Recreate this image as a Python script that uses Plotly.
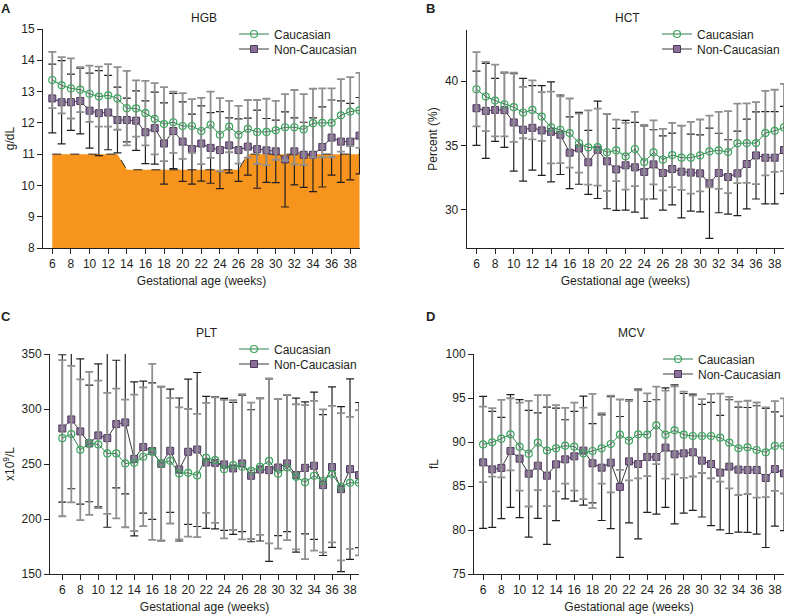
import plotly.graph_objects as go

weeks = list(range(6, 40))
tick_weeks = list(range(6, 39, 2))

hgb_c = [13.37,13.2,13.1,13.06,12.93,12.84,12.88,12.78,12.47,12.46,12.31,12.13,11.96,12.02,11.9,11.9,11.74,11.94,11.62,11.88,11.62,11.81,11.71,11.71,11.76,11.86,11.86,11.79,11.99,12.0,12.0,12.24,12.36,12.4]
hgb_n = [12.78,12.66,12.66,12.7,12.39,12.31,12.33,12.09,12.09,12.07,11.7,11.83,11.34,11.74,11.4,11.16,11.34,11.2,11.13,11.28,11.13,11.24,11.16,11.12,11.09,10.83,11.09,10.98,10.98,11.23,11.53,11.4,11.4,11.59]
hgb_c_sd = [0.9,0.9,0.96,0.72,0.9,0.96,1.0,1.0,1.19,0.9,1.03,1.14,1.18,0.98,1.05,0.86,1.06,1.06,1.17,0.82,0.92,0.92,1.02,1.06,0.94,1.06,1.19,1.13,1.1,1.1,1.1,1.16,1.1,1.2]
hgb_n_sd = [1.1,1.33,0.9,1.05,1.2,1.36,1.19,1.05,0.7,0.95,1.0,1.15,1.3,1.2,1.27,1.12,1.2,1.13,1.23,0.88,1.0,0.91,1.25,1.02,1.0,1.52,1.07,1.04,1.18,1.28,1.2,1.3,1.22,1.22]

# anemia reference (lower limit) line
ref_weeks = [6, 13, 14, 26, 27, 39]
ref_hgb = [11, 11, 10.5, 10.5, 11, 11]

hct_c = [39.38,38.81,38.5,38.21,37.98,37.56,37.77,37.25,36.4,36.22,35.96,35.18,34.84,34.87,34.46,34.61,34.15,34.72,33.7,34.46,33.89,34.25,34.04,34.04,34.22,34.53,34.61,34.48,35.16,35.18,35.18,35.96,36.14,36.4]
hct_n = [37.9,37.69,37.77,37.75,36.79,36.22,36.37,36.17,36.06,35.83,34.43,34.77,33.68,34.66,33.76,33.13,33.45,33.29,32.93,33.52,32.85,33.16,32.95,32.88,32.82,32.05,32.85,32.54,32.82,33.55,34.22,34.04,34.04,34.64]
hct_c_sd = [2.9,2.7,2.8,2.5,2.7,2.0,2.3,1.9,2.8,2.6,2.7,2.3,2.9,3.0,3.0,2.4,2.6,2.9,2.9,2.5,2.4,2.5,2.5,2.8,2.8,2.8,3.0,3.2,3.1,3.1,3.2,3.3,3.2,3.4]
hct_n_sd = [2.9,3.7,2.45,2.9,3.8,4.0,3.3,3.5,3.9,3.1,2.8,2.8,2.5,3.8,3.7,3.2,3.5,3.5,3.6,2.7,2.9,2.8,3.6,3.0,3.0,4.3,3.1,2.9,3.3,3.5,3.4,3.6,3.6,3.4]

plt_c = [273.5,277.2,262.9,268.7,267.8,259.6,259.6,250.5,251.1,256.6,261.1,250.5,252.9,241.4,242.0,239.6,255.6,253.5,245.3,249.0,247.5,243.8,247.5,252.9,241.1,246.8,238.3,233.5,239.3,234.7,240.8,229.3,232.9,232.9]
plt_n = [282.3,290.5,279.6,268.7,276.0,273.5,286.3,287.8,254.7,265.4,261.7,250.2,262.0,245.0,261.1,263.2,251.4,251.1,249.6,246.0,250.5,239.3,245.0,244.4,246.8,250.5,239.9,246.5,248.4,230.8,247.2,227.1,245.3,239.9]
plt_c_sd = [71,62,64,65,58,55,59,58,62,63,80,70,57,60,58,56,50,57,63,59,66,62,62,75,68,66,66,70,68,65,62,67,60,66]
plt_n_sd = [67,63,66,53,65,81,58,65,70,60,62,70,56,65,66,70,60,60,60,60,62,60,65,83,62,62,70,60,67,64,73,75,82,66]

mcv_c = [89.73,89.96,90.38,90.87,89.47,88.67,89.92,89.02,89.28,89.58,89.47,88.71,88.98,89.28,89.77,90.83,90.15,90.87,90.83,91.89,90.83,91.33,90.83,90.68,90.68,90.68,90.49,89.92,89.28,89.39,89.09,88.83,89.55,89.55]
mcv_n = [87.69,86.89,87.05,88.98,88.11,86.4,87.31,86.17,87.46,88.03,88.37,89.02,87.58,87.08,87.65,84.9,87.8,87.5,88.3,88.3,89.36,88.6,88.71,88.83,87.88,87.5,86.52,87.2,86.86,86.82,86.82,85.91,86.93,86.44]
mcv_c_sd = [4.3,3.9,4.4,4.1,5.0,6.0,5.4,6.3,4.9,4.3,5.0,5.2,6.5,4.0,5.5,4.0,4.5,5.0,4.7,4.4,5.0,5.0,4.9,4.6,4.2,4.8,5.0,5.2,5.3,5.3,5.4,5.1,5.1,5.4]
mcv_n_sd = [7.5,6.6,5.75,6.4,6.7,7.2,6.0,7.8,6.4,4.5,5.1,6.2,4.5,6.0,7.5,8.0,7.0,8.5,6.3,6.5,6.8,7.9,6.8,6.6,6.4,7.0,6.5,7.6,7.1,7.1,7.3,7.9,6.5,6.5]

panels = [
    dict(title="HGB", letter="A", ytitle="g/dL", c=hgb_c, n=hgb_n, csd=hgb_c_sd, nsd=hgb_n_sd,
         yrange=[8, 15], ytick=[8, 9, 10, 11, 12, 13, 14, 15], xrange=[5.0, 39.05],
         xdom=[43, 360], ydom=[29, 248], legend=(234, 34)),
    dict(title="HCT", letter="B", ytitle="Percent (%)", c=hct_c, n=hct_n, csd=hct_c_sd, nsd=hct_n_sd,
         yrange=[27, 44], ytick=[30, 35, 40], xrange=[4.95, 39.0],
         xdom=[466.7, 784], ydom=[30, 248], legend=(657, 34)),
    dict(title="PLT", letter="C", ytitle="x10<sup>9</sup>/L", c=plt_c, n=plt_n, csd=plt_c_sd, nsd=plt_n_sd,
         yrange=[150, 350], ytick=[150, 200, 250, 300, 350], xrange=[4.63, 39.0],
         xdom=[50, 359], ydom=[354, 574], legend=(234, 349)),
    dict(title="MCV", letter="D", ytitle="fL", c=mcv_c, n=mcv_n, csd=mcv_c_sd, nsd=mcv_n_sd,
         yrange=[75, 100], ytick=[75, 80, 85, 90, 95, 100], xrange=[5.0, 39.0],
         xdom=[474, 784], ydom=[354, 574], legend=(658, 359)),
]

W, H = 788, 616
FONT = "Liberation Sans, Arial, sans-serif"
TXT = "#231f20"
ENTRY_GAP = 15

fig = go.Figure()
layout = dict(width=W, height=H, margin=dict(l=0, r=0, t=0, b=0),
              paper_bgcolor="white", plot_bgcolor="white",
              font=dict(family=FONT, size=12, color=TXT), showlegend=True)
annotations = []
leg_idx = 0

def leg_name(i):
    return "legend" if i == 0 else "legend%d" % (i + 1)

for i, p in enumerate(panels):
    k = "" if i == 0 else str(i + 1)
    xa, ya = "x" + k, "y" + k
    if p["title"] == "HGB":
        fig.add_trace(go.Scatter(x=ref_weeks, y=ref_hgb, xaxis=xa, yaxis=ya, mode="lines",
                                 fill="tozeroy", fillcolor="#f7941d",
                                 line=dict(color="#231f20", width=1, dash="dash"),
                                 showlegend=False, hoverinfo="skip"))
    lx, ly = p["legend"]
    leg_c = leg_name(leg_idx)
    leg_n = leg_name(leg_idx + 1)
    leg_idx += 2
    fig.add_trace(go.Scatter(x=weeks, y=p["n"], xaxis=xa, yaxis=ya, name="Non-Caucasian",
                             mode="lines+markers", legend=leg_n,
                             line=dict(color="#3a3a3a", width=1),
                             marker=dict(symbol="square", size=7, color="#8b6f99",
                                         line=dict(color="#4b3a5a", width=1)),
                             error_y=dict(type="data", array=p["nsd"], visible=True,
                                          color="#231f20", thickness=1.2, width=4)))
    fig.add_trace(go.Scatter(x=weeks, y=p["c"], xaxis=xa, yaxis=ya, name="Caucasian",
                             mode="lines+markers", legend=leg_c,
                             line=dict(color="#2f7d4e", width=1),
                             marker=dict(symbol="circle-open", size=7, color="#3aa55c",
                                         line=dict(width=1.2)),
                             error_y=dict(type="data", array=p["csd"], visible=True,
                                          color="#8f8f8f", thickness=1.8, width=4)))
    for j, lg in enumerate([leg_c, leg_n]):
        layout[lg] = dict(x=lx / W, y=1 - (ly + j * ENTRY_GAP) / H, xanchor="left",
                          yanchor="middle", bgcolor="rgba(0,0,0,0)",
                          font=dict(size=12, color=TXT), itemwidth=30, borderwidth=0)
    xd = [p["xdom"][0] / W, p["xdom"][1] / W]
    yd = [1 - p["ydom"][1] / H, 1 - p["ydom"][0] / H]
    axis_common = dict(showgrid=False, zeroline=False, showline=True, linecolor="#231f20",
                       linewidth=1, ticks="outside", ticklen=5, tickcolor="#231f20",
                       automargin=False,
                       tickfont=dict(size=12, color=TXT, family=FONT))
    layout["xaxis" + k] = dict(domain=xd, range=p["xrange"], anchor=ya, tickvals=tick_weeks,
                               title=dict(text="Gestational age (weeks)", standoff=6,
                                          font=dict(size=12)), **axis_common)
    layout["yaxis" + k] = dict(domain=yd, range=p["yrange"], anchor=xa, tickvals=p["ytick"],
                               title=dict(text=p["ytitle"], standoff=4, font=dict(size=12)),
                               **axis_common)
    cx = (p["xdom"][0] + p["xdom"][1]) / 2 + 2
    ty = 18 if i < 2 else 333
    annotations.append(dict(text=p["title"], x=cx / W, y=1 - ty / H, xref="paper", yref="paper",
                            showarrow=False, xanchor="center", yanchor="middle",
                            font=dict(size=12, color=TXT)))
    lxp = 6 if i % 2 == 0 else 431
    lyp = 8 if i < 2 else 316
    annotations.append(dict(text="<b>%s</b>" % p["letter"], x=lxp / W, y=1 - lyp / H,
                            xref="paper", yref="paper", showarrow=False,
                            xanchor="center", yanchor="middle",
                            font=dict(size=13, color=TXT)))

layout["annotations"] = annotations
fig.update_layout(**layout)
fig.write_html("out.html", config={"displayModeBar": False},
               post_script="document.body.style.margin='0px';")
